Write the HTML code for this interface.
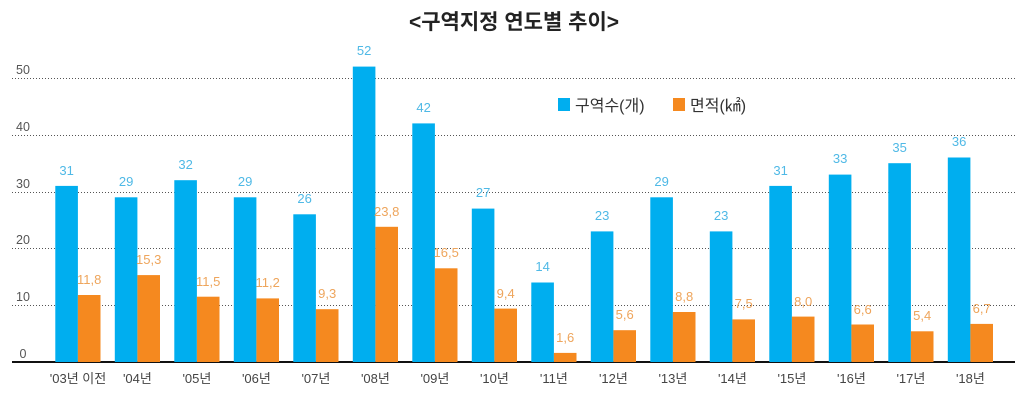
<!DOCTYPE html>
<html><head><meta charset="utf-8"><style>
html,body{margin:0;padding:0;background:#fff;}
svg{display:block;}
text{font-family:"Liberation Sans","Noto Sans CJK KR",sans-serif;}
</style></head><body>
<svg width="1034" height="400" viewBox="0 0 1034 400" xmlns="http://www.w3.org/2000/svg">
<text x="514" y="29" text-anchor="middle" font-size="21" font-weight="bold" fill="#222">&lt;구역지정 연도별 추이&gt;</text>
<g stroke="#555" stroke-width="1" stroke-dasharray="1,2">
<line x1="12" y1="78.5" x2="1015" y2="78.5"/>
<line x1="12" y1="135.5" x2="1015" y2="135.5"/>
<line x1="12" y1="192.5" x2="1015" y2="192.5"/>
<line x1="12" y1="248.5" x2="1015" y2="248.5"/>
<line x1="12" y1="305.5" x2="1015" y2="305.5"/>
</g>
<g font-size="12.5" fill="#555" text-anchor="middle">
<text x="23" y="74">50</text>
<text x="23" y="131">40</text>
<text x="23" y="188">30</text>
<text x="23" y="244">20</text>
<text x="23" y="301">10</text>
<text x="23" y="358">0</text>
</g>
<g id="bars"></g>
<line x1="12" y1="362" x2="1015" y2="362" stroke="#111" stroke-width="2"/>
<rect x="558" y="98" width="12" height="13" fill="#00aeef"/>
<text x="575" y="111" font-size="16" fill="#333">구역수(개)</text>
<rect x="673" y="98" width="12" height="13" fill="#f5891f"/>
<text x="690" y="111" font-size="16" fill="#333">면적(㎢)</text>
<g font-size="13" text-anchor="middle">
<!-- generated bars -->
<rect x="55.3" y="185.9" width="22.6" height="176.1" fill="#00aeef"/><rect x="77.9" y="295.0" width="22.6" height="67.0" fill="#f5891f"/><text x="66.6" y="175" fill="#4fb9e6">31</text><text x="89.2" y="284" fill="#eea55c">11,8</text><text x="78" y="383" fill="#444">'03년 이전</text>
<rect x="114.8" y="197.3" width="22.6" height="164.7" fill="#00aeef"/><rect x="137.4" y="275.1" width="22.6" height="86.9" fill="#f5891f"/><text x="126.1" y="186" fill="#4fb9e6">29</text><text x="148.7" y="264" fill="#eea55c">15,3</text><text x="137.4" y="383" fill="#444">'04년</text>
<rect x="174.3" y="180.2" width="22.6" height="181.8" fill="#00aeef"/><rect x="196.9" y="296.7" width="22.6" height="65.3" fill="#f5891f"/><text x="185.6" y="169" fill="#4fb9e6">32</text><text x="208.2" y="286" fill="#eea55c">11,5</text><text x="196.9" y="383" fill="#444">'05년</text>
<rect x="233.8" y="197.3" width="22.6" height="164.7" fill="#00aeef"/><rect x="256.4" y="298.4" width="22.6" height="63.6" fill="#f5891f"/><text x="245.1" y="186" fill="#4fb9e6">29</text><text x="267.7" y="287" fill="#eea55c">11,2</text><text x="256.4" y="383" fill="#444">'06년</text>
<rect x="293.3" y="214.3" width="22.6" height="147.7" fill="#00aeef"/><rect x="315.9" y="309.2" width="22.6" height="52.8" fill="#f5891f"/><text x="304.6" y="203" fill="#4fb9e6">26</text><text x="327.2" y="298" fill="#eea55c">9,3</text><text x="315.9" y="383" fill="#444">'07년</text>
<rect x="352.8" y="66.6" width="22.6" height="295.4" fill="#00aeef"/><rect x="375.4" y="226.8" width="22.6" height="135.2" fill="#f5891f"/><text x="364.1" y="55" fill="#4fb9e6">52</text><text x="386.7" y="216" fill="#eea55c">23,8</text><text x="375.4" y="383" fill="#444">'08년</text>
<rect x="412.3" y="123.4" width="22.6" height="238.6" fill="#00aeef"/><rect x="434.9" y="268.3" width="22.6" height="93.7" fill="#f5891f"/><text x="423.6" y="112" fill="#4fb9e6">42</text><text x="446.2" y="257" fill="#eea55c">16,5</text><text x="434.9" y="383" fill="#444">'09년</text>
<rect x="471.8" y="208.6" width="22.6" height="153.4" fill="#00aeef"/><rect x="494.4" y="308.6" width="22.6" height="53.4" fill="#f5891f"/><text x="483.1" y="197" fill="#4fb9e6">27</text><text x="505.7" y="298" fill="#eea55c">9,4</text><text x="494.4" y="383" fill="#444">'10년</text>
<rect x="531.3" y="282.5" width="22.6" height="79.5" fill="#00aeef"/><rect x="553.9" y="352.9" width="22.6" height="9.1" fill="#f5891f"/><text x="542.6" y="271" fill="#4fb9e6">14</text><text x="565.2" y="342" fill="#eea55c">1,6</text><text x="553.9" y="383" fill="#444">'11년</text>
<rect x="590.8" y="231.4" width="22.6" height="130.6" fill="#00aeef"/><rect x="613.4" y="330.2" width="22.6" height="31.8" fill="#f5891f"/><text x="602.1" y="220" fill="#4fb9e6">23</text><text x="624.7" y="319" fill="#eea55c">5,6</text><text x="613.4" y="383" fill="#444">'12년</text>
<rect x="650.3" y="197.3" width="22.6" height="164.7" fill="#00aeef"/><rect x="672.9" y="312.0" width="22.6" height="50.0" fill="#f5891f"/><text x="661.6" y="186" fill="#4fb9e6">29</text><text x="684.2" y="301" fill="#eea55c">8,8</text><text x="672.9" y="383" fill="#444">'13년</text>
<rect x="709.8" y="231.4" width="22.6" height="130.6" fill="#00aeef"/><rect x="732.4" y="319.4" width="22.6" height="42.6" fill="#f5891f"/><text x="721.1" y="220" fill="#4fb9e6">23</text><text x="743.7" y="308" fill="#eea55c">7,5</text><text x="732.4" y="383" fill="#444">'14년</text>
<rect x="769.3" y="185.9" width="22.6" height="176.1" fill="#00aeef"/><rect x="791.9" y="316.6" width="22.6" height="45.4" fill="#f5891f"/><text x="780.6" y="175" fill="#4fb9e6">31</text><text x="803.2" y="306" fill="#eea55c">8,0</text><text x="791.9" y="383" fill="#444">'15년</text>
<rect x="828.8" y="174.6" width="22.6" height="187.4" fill="#00aeef"/><rect x="851.4" y="324.5" width="22.6" height="37.5" fill="#f5891f"/><text x="840.1" y="163" fill="#4fb9e6">33</text><text x="862.7" y="314" fill="#eea55c">6,6</text><text x="851.4" y="383" fill="#444">'16년</text>
<rect x="888.3" y="163.2" width="22.6" height="198.8" fill="#00aeef"/><rect x="910.9" y="331.3" width="22.6" height="30.7" fill="#f5891f"/><text x="899.6" y="152" fill="#4fb9e6">35</text><text x="922.2" y="320" fill="#eea55c">5,4</text><text x="910.9" y="383" fill="#444">'17년</text>
<rect x="947.8" y="157.5" width="22.6" height="204.5" fill="#00aeef"/><rect x="970.4" y="323.9" width="22.6" height="38.1" fill="#f5891f"/><text x="959.1" y="146" fill="#4fb9e6">36</text><text x="981.7" y="313" fill="#eea55c">6,7</text><text x="970.4" y="383" fill="#444">'18년</text>
</g>
</svg>
</body></html>
